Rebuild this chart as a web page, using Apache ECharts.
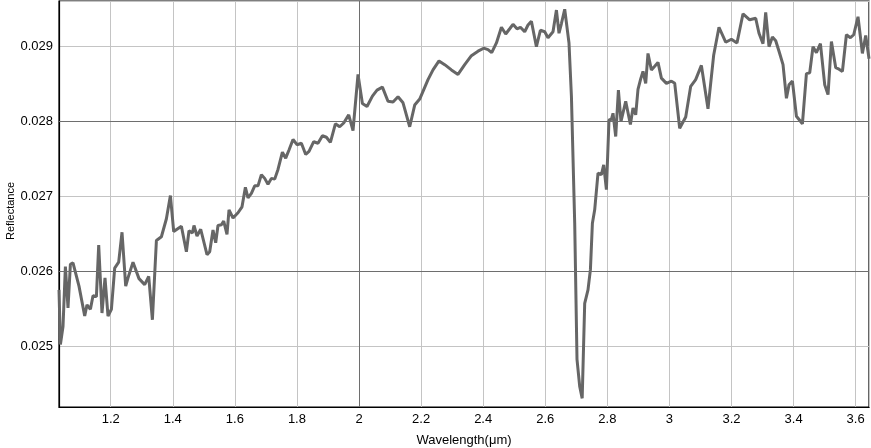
<!DOCTYPE html>
<html>
<head>
<meta charset="utf-8">
<script src="https://cdn.jsdelivr.net/npm/echarts@6/dist/echarts.min.js"></script>
<style>html,body{margin:0;padding:0;background:#fff}#c{width:871px;height:448px}</style>
</head>
<body>
<div id="c"></div>
<script>
const wavelength = [1.0335,1.038,1.0464,1.0541,1.0625,1.0702,1.0786,1.0979,1.1163,1.1237,1.1347,1.143,1.154,1.1614,1.172,1.1817,1.1914,1.2023,1.2129,1.2258,1.2365,1.2484,1.2558,1.2719,1.2912,1.3096,1.3225,1.3344,1.3473,1.3634,1.3795,1.3924,1.403,1.4278,1.4439,1.4523,1.4633,1.4684,1.4781,1.49,1.5103,1.519,1.5296,1.5383,1.5457,1.5567,1.5641,1.5747,1.5812,1.5941,1.6102,1.6231,1.634,1.6424,1.6533,1.664,1.6746,1.6855,1.6962,1.7068,1.7178,1.7284,1.739,1.7532,1.7638,1.7745,1.7874,1.8003,1.8144,1.8283,1.8389,1.8541,1.8679,1.8821,1.895,1.9078,1.9239,1.9378,1.9507,1.9668,1.9807,1.9968,2.0109,2.0258,2.0432,2.058,2.0754,2.0934,2.1096,2.1257,2.1418,2.1633,2.1794,2.1956,2.2223,2.2384,2.2577,2.2761,2.2977,2.3189,2.3405,2.3621,2.3834,2.4017,2.4156,2.4275,2.4427,2.4588,2.4726,2.4855,2.4961,2.509,2.52,2.5338,2.5445,2.5554,2.5715,2.5844,2.5983,2.6089,2.625,2.636,2.6443,2.6521,2.6627,2.6765,2.6843,2.6949,2.7023,2.711,2.719,2.7271,2.7377,2.7455,2.7519,2.7593,2.77,2.7809,2.7883,2.797,2.8054,2.8131,2.8183,2.827,2.8357,2.844,2.8592,2.8743,2.8827,2.8914,2.8988,2.9075,2.9149,2.9236,2.931,2.9419,2.9526,2.9632,2.9742,2.9903,3.0064,3.0171,3.0331,3.0525,3.0686,3.0846,3.103,3.1243,3.1427,3.1597,3.1813,3.1997,3.2177,3.2371,3.2586,3.278,3.2886,3.3015,3.3102,3.3209,3.3318,3.3425,3.3531,3.366,3.377,3.3853,3.3963,3.4092,3.4285,3.4414,3.452,3.4626,3.4736,3.4865,3.5004,3.511,3.5219,3.5358,3.5464,3.5574,3.5702,3.5831,3.5937,3.6076,3.6217,3.6324,3.6431];
const reflectance = [0.02575,0.02502,0.02526,0.02606,0.02551,0.02609,0.02611,0.0258,0.0254,0.02555,0.02549,0.02567,0.02566,0.02635,0.02544,0.02591,0.0254,0.02549,0.02604,0.02612,0.02652,0.0258,0.02591,0.02612,0.0259,0.02582,0.02593,0.02535,0.02641,0.02646,0.0267,0.02701,0.02653,0.0266,0.02626,0.02654,0.02651,0.02661,0.02647,0.02656,0.02622,0.02626,0.02655,0.02638,0.02661,0.02662,0.02667,0.02649,0.02682,0.02671,0.02678,0.02686,0.02712,0.02698,0.02704,0.02714,0.02714,0.02729,0.02724,0.02716,0.02724,0.02723,0.02736,0.02759,0.02751,0.02762,0.02776,0.02769,0.02771,0.02756,0.0276,0.02773,0.02771,0.02781,0.02779,0.02772,0.02797,0.02793,0.02798,0.02809,0.02788,0.02863,0.02824,0.0282,0.02834,0.02842,0.02846,0.02827,0.02826,0.02833,0.02825,0.02793,0.02822,0.0283,0.02856,0.02869,0.02881,0.02876,0.02869,0.02863,0.02876,0.02888,0.02894,0.02898,0.02896,0.02892,0.02905,0.02926,0.02917,0.02924,0.0293,0.02924,0.02926,0.0292,0.02929,0.02934,0.029,0.02922,0.0292,0.02912,0.0292,0.02949,0.02918,0.02931,0.0295,0.02905,0.02834,0.02664,0.02482,0.02446,0.0243,0.02557,0.02575,0.02602,0.02664,0.02682,0.02731,0.02729,0.02742,0.02709,0.02802,0.02803,0.02811,0.0278,0.02842,0.028,0.02827,0.02796,0.02818,0.02809,0.02843,0.02857,0.02867,0.02851,0.02891,0.02869,0.02874,0.02879,0.02858,0.02851,0.02854,0.02851,0.02791,0.02806,0.02847,0.02856,0.02875,0.02817,0.02889,0.02926,0.02906,0.0291,0.02905,0.02944,0.02936,0.02938,0.02918,0.02904,0.02946,0.029,0.02913,0.02908,0.02894,0.02876,0.02831,0.02849,0.02854,0.02807,0.02797,0.02864,0.02865,0.029,0.02892,0.02904,0.02849,0.02836,0.02907,0.02872,0.0287,0.02867,0.02916,0.02912,0.02916,0.0294,0.02891,0.02915,0.02884];
const xRange = [1.0335, 3.643];
const yRange = [0.024184, 0.029611];
const darkGridX = [2];
const darkGridY = [0.026, 0.028];
const xName = 'Wavelength(μm)';
const yName = 'Reflectance';

const chart = echarts.init(document.getElementById('c'), null, {renderer: 'canvas'});
const font = '"Liberation Sans", Arial, sans-serif';
const markData = darkGridX.map(v => [{coord: [v, yRange[0]]}, {coord: [v, yRange[1]]}])
  .concat(darkGridY.map(v => [{coord: [xRange[0], v]}, {coord: [xRange[1], v]}]));
chart.setOption({
  animation: false,
  grid: {left: 59, right: 2, top: 1, bottom: 41, outerBoundsMode: 'none', containLabel: false, show: true, borderColor: '#000', borderWidth: 1.2, backgroundColor: 'transparent'},
  xAxis: {
    type: 'value', min: xRange[0], max: xRange[1], splitNumber: 13,
    name: xName, nameLocation: 'middle', nameGap: 27, nameMoveOverlap: false,
    nameTextStyle: {fontSize: 13, color: '#000', fontFamily: font},
    axisLine: {show: true, lineStyle: {color: '#000', width: 1.2}},
    axisTick: {show: false},
    axisLabel: {fontSize: 13, color: '#000', fontFamily: font, margin: 6, showMinLabel: false, showMaxLabel: false},
    splitLine: {show: true, lineStyle: {color: '#c4c4c4', width: 1}}
  },
  yAxis: {
    type: 'value', min: yRange[0], max: yRange[1], splitNumber: 5,
    name: yName, nameLocation: 'middle', nameGap: 43, nameMoveOverlap: false,
    nameTextStyle: {fontSize: 11, color: '#000', fontFamily: font, padding: [0, 14, 0, 0]},
    axisLine: {show: true, lineStyle: {color: '#000', width: 1.2}},
    axisTick: {show: false},
    axisLabel: {fontSize: 13, color: '#000', fontFamily: font, margin: 6, showMinLabel: false, showMaxLabel: false},
    splitLine: {show: true, lineStyle: {color: '#c4c4c4', width: 1}}
  },
  series: [{
    type: 'line',
    data: wavelength.map((w, i) => [w, reflectance[i]]),
    showSymbol: false, symbol: 'none',
    lineStyle: {color: '#666666', width: 3},
    itemStyle: {color: '#666666'},
    clip: true,
    markLine: {
      silent: true, symbol: ['none', 'none'], label: {show: false},
      lineStyle: {color: '#6e6e6e', width: 1, type: 'solid'},
      emphasis: {disabled: true},
      data: markData
    },
    z: 3
  }]
});
</script>
</body>
</html>
